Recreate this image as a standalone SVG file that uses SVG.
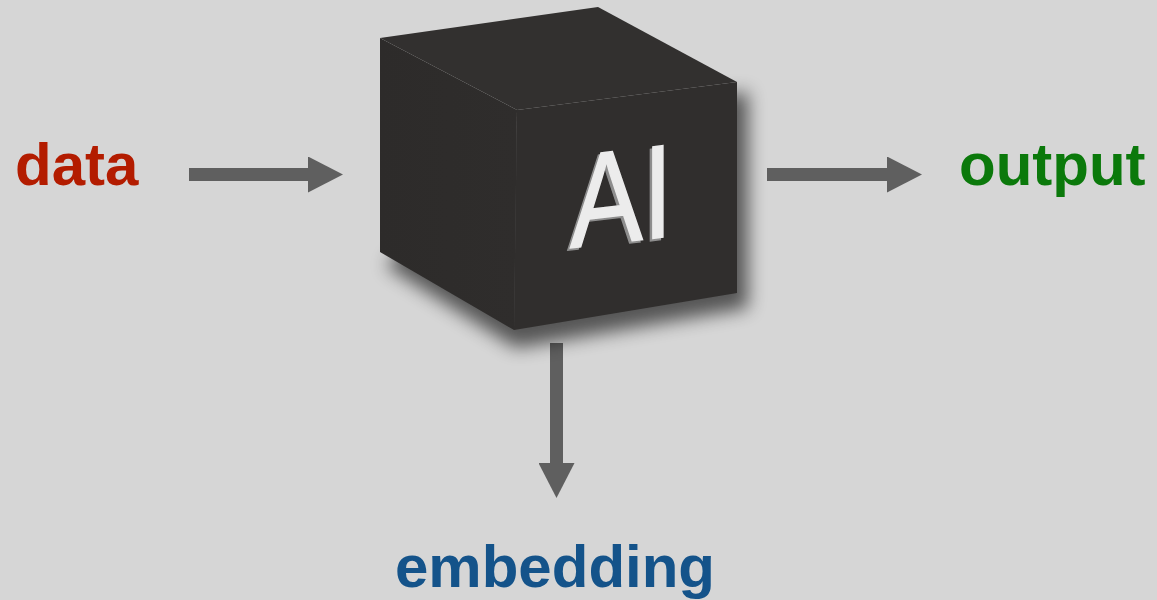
<svg xmlns="http://www.w3.org/2000/svg" width="1157" height="600" viewBox="0 0 1157 600">
  <style>
    .label { font-family: "Liberation Sans", Arial, sans-serif; font-weight: bold; font-size: 60px; }
    .conn { stroke: #5f5f5f; stroke-width: 13; fill: none; }
    .face { stroke: none; }
    .glyph { font-family: "Liberation Sans", Arial, sans-serif; font-size: 133px; }
  </style>
  <defs>
    <marker id="head" markerUnits="userSpaceOnUse" markerWidth="36" markerHeight="36" refX="0" refY="18" orient="auto">
      <path d="M0,0 L35,18 L0,36 Z" fill="#5f5f5f"/>
    </marker>
    <filter id="soft" x="-30%" y="-30%" width="160%" height="160%">
      <feGaussianBlur stdDeviation="9"/>
    </filter>
    <linearGradient id="leftFace" x1="0" y1="0" x2="1" y2="0">
      <stop offset="0" stop-color="#2d2b2a"/>
      <stop offset="1" stop-color="#2f2d2c"/>
    </linearGradient>
  </defs>

  <rect width="1157" height="600" fill="#d6d6d6"/>

  <!-- connectors -->
  <g id="connectors">
    <line class="conn" x1="189" y1="174.5" x2="308" y2="174.5" marker-end="url(#head)"/>
    <line class="conn" x1="767" y1="174.5" x2="887" y2="174.5" marker-end="url(#head)"/>
    <line class="conn" x1="556.5" y1="343" x2="556.5" y2="463" marker-end="url(#head)"/>
  </g>

  <!-- AI cube -->
  <g id="ai-cube">
    <polygon points="386,266 516,348 748,308 748,92 520,120" fill="#000" opacity="0.6" filter="url(#soft)"/>
    <polygon class="face" points="380,38 517,110 514,330 380,252" fill="url(#leftFace)"/>
    <polygon class="face" points="517,110 737,82 737,293 514,330" fill="#302e2d"/>
    <polygon class="face" points="380,38 598,7 737,82 517,110" fill="#32302f"/>
    <g transform="translate(570,248) skewY(-6.6) scale(0.82,1)">
      <text class="glyph" x="-3" y="2" fill="#8e8e8e" stroke="#8e8e8e" stroke-width="1.5">AI</text>
      <text class="glyph" x="0" y="0" fill="#ececec" stroke="#ececec" stroke-width="1.5">AI</text>
    </g>
  </g>

  <g id="data">
    <text class="label" x="15" y="185" fill="#b31c00">data</text>
  </g>
  <g id="output">
    <text class="label" x="959" y="185" fill="#0b790b">output</text>
  </g>
  <g id="embedding">
    <text class="label" x="395" y="587" fill="#14538a">embedding</text>
  </g>
</svg>
